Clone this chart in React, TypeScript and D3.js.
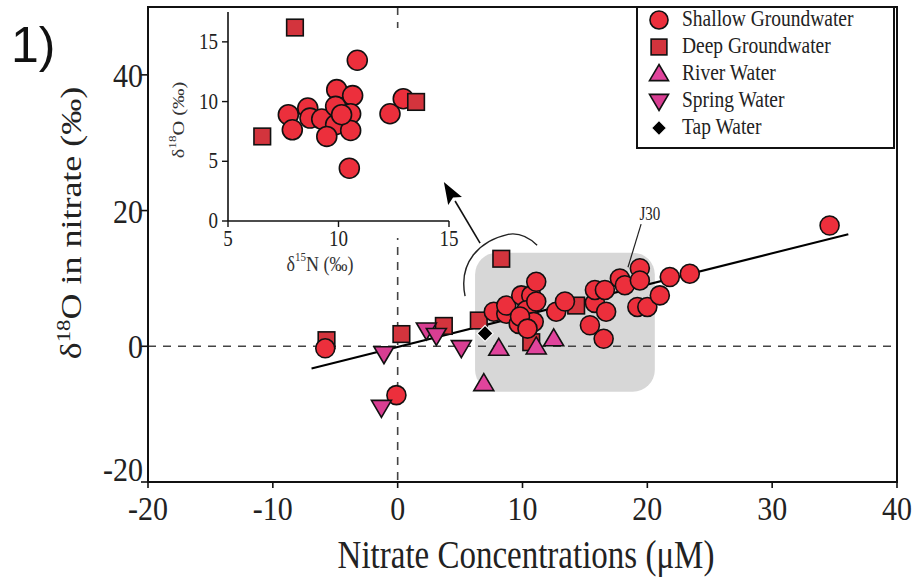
import React from "react";
import * as d3 from "d3";

const xTicks = [-20, -10, 0, 10, 20, 30, 40];
const yTicks = [-20, 0, 20, 40];
const insetXTicks = [5, 10, 15];
const insetYTicks = [0, 5, 10, 15];

const shallow: [number, number][] = [
  [-5.8, -0.3], [-0.1, -7.2],
  [7.7, 5.1], [8.7, 4.8], [8.7, 6.0], [9.9, 7.5], [10.7, 7.5], [10.3, 5.3],
  [10.9, 3.6], [9.7, 3.3], [9.8, 4.4], [11.1, 9.5], [11.1, 6.6], [10.4, 2.6],
  [12.7, 5.1], [13.4, 6.6], [15.8, 6.4], [15.8, 8.3], [16.6, 8.3], [16.7, 5.1],
  [15.4, 3.1], [16.5, 1.1], [17.8, 10.0], [18.2, 9.0], [19.4, 11.5], [19.4, 9.7],
  [19.2, 5.8], [20.0, 5.8], [21.0, 7.5], [21.8, 10.2], [23.4, 10.7], [34.6, 17.8],
];
const deep: [number, number][] = [
  [-5.7, 0.9], [0.3, 1.8], [3.7, 3.0], [6.5, 3.8], [8.3, 12.9], [14.3, 6.0], [10.7, 0.6],
];
const river: [number, number][] = [
  [6.9, -5.5], [8.1, -0.3], [11.1, -0.1], [12.5, 1.1],
];
const spring: [number, number][] = [
  [-1.1, -1.1], [-1.3, -9.0], [2.3, 2.4], [3.1, 1.6], [5.1, -0.2],
];
const tap: [number, number][] = [[7.0, 1.9]];

const insetShallow: [number, number][] = [
  [10.85, 13.46], [9.92, 11.0], [10.64, 10.5], [8.61, 9.46], [7.73, 8.9],
  [7.91, 7.64], [8.71, 8.62], [9.24, 8.54], [9.87, 9.6], [9.87, 8.06],
  [9.47, 7.08], [10.55, 8.98], [10.55, 7.58], [10.49, 4.42], [12.33, 8.98],
  [12.93, 10.24], [10.14, 8.9],
];
const insetDeep: [number, number][] = [[8.03, 16.2], [6.55, 7.08], [13.51, 9.97]];

const regression = { slope: 0.46, intercept: -0.1, x0: -6.9, x1: 36.1 };
const shadedBox = { x0: 6.2, x1: 20.6, y0: -6.7, y1: 13.8 };

const legendItems = [
  { label: "Shallow Groundwater", kind: "circle" },
  { label: "Deep Groundwater", kind: "square" },
  { label: "River Water", kind: "up" },
  { label: "Spring Water", kind: "down" },
  { label: "Tap Water", kind: "diamond" },
];

const COLORS: Record<string, string> = {
  circle: "#ec2f3c",
  square: "#d3343d",
  up: "#e0449c",
  down: "#d83e92",
  diamond: "#000000",
};

const serif = "'Liberation Serif', 'Times New Roman', serif";
const SY = 1.2;

function T({ x, y, size, anchor = "start", rotate = 0, children, fill = "#222", sy = SY }: any) {
  return (
    <g transform={`translate(${x},${y}) scale(1,${sy})${rotate ? ` rotate(${rotate})` : ""}`}>
      <text x={0} y={0} fontSize={size} textAnchor={anchor} fill={fill}>{children}</text>
    </g>
  );
}

function Marker({ kind, x, y, s = 1 }: { kind: string; x: number; y: number; s?: number }) {
  const fill = COLORS[kind];
  const common = { fill, stroke: "#111", strokeWidth: 1.6 };
  if (kind === "circle") return <circle cx={x} cy={y} r={9.5 * s} {...common} />;
  if (kind === "square") {
    const h = 8.3 * s;
    return <rect x={x - h} y={y - h} width={2 * h} height={2 * h} {...common} />;
  }
  if (kind === "up") {
    const w = 10 * s;
    return <path d={`M${x},${y - 10 * s}L${x + w},${y + 7 * s}L${x - w},${y + 7 * s}Z`} {...common} />;
  }
  if (kind === "down") {
    const w = 10 * s;
    return <path d={`M${x},${y + 10 * s}L${x + w},${y - 7 * s}L${x - w},${y - 7 * s}Z`} {...common} />;
  }
  const d = 8 * s;
  return <path d={`M${x},${y - d}L${x + d},${y}L${x},${y + d}L${x - d},${y}Z`} fill="#000" stroke="#fff" strokeWidth={1.2} />;
}

export default function App() {
  const L = 148, R = 897, TOP = 7, B = 482;
  const x = d3.scaleLinear().domain([-20, 40]).range([L, R]);
  const y = d3.scaleLinear().domain([-20, 50]).range([B, TOP]);

  const ix = d3.scaleLinear().domain([5, 15]).range([228, 449]);
  const iy = d3.scaleLinear().domain([0, 17.5]).range([221, 12]);

  const arc = d3.path();
  arc.moveTo(x(5.4), y(7.4));
  arc.bezierCurveTo(x(4.84), y(12.4), x(6.6), y(15.6), x(8.85), y(16.5));
  arc.bezierCurveTo(x(9.8), y(16.8), x(10.6), y(15.9), x(11.17), y(14.9));

  const ax0 = x(6.6), ay0 = y(15.2), ax1 = x(3.7), ay1 = y(24.2);
  const ang = Math.atan2(ay1 - ay0, ax1 - ax0);
  const hl = 22, hw = 8;
  const bx = ax1 - hl * Math.cos(ang), by = ay1 - hl * Math.sin(ang);
  const head = `M${ax1},${ay1}L${bx + hw * Math.sin(ang)},${by - hw * Math.cos(ang)}L${bx + 4 * Math.cos(ang)},${by + 4 * Math.sin(ang)}L${bx - hw * Math.sin(ang)},${by + hw * Math.cos(ang)}Z`;

  const line = d3.line<number>().x((v) => x(v)).y((v) => y(regression.slope * v + regression.intercept));

  const legX = 637, legY = 7, legW = 257, legH = 141;
  const tickSY = 1.15;

  return (
    <svg width={914} height={579} style={{ position: "absolute", left: 0, top: 0, background: "#fff" }} fontFamily={serif}>
      <rect x={0} y={0} width={914} height={579} fill="#fff" />
      <text x={11} y={62} fontFamily="'Liberation Sans', Arial, sans-serif" fontSize={50} fill="#111">1)</text>

      {/* shaded region */}
      <rect x={x(shadedBox.x0)} y={y(shadedBox.y1)} width={x(shadedBox.x1) - x(shadedBox.x0)}
        height={y(shadedBox.y0) - y(shadedBox.y1)} rx={22} fill="#d7d7d7" />

      {/* dashed zero lines */}
      <line x1={L} x2={R} y1={y(0)} y2={y(0)} stroke="#444" strokeWidth={1.6} strokeDasharray="8,7" />
      <line x1={x(0)} x2={x(0)} y1={TOP} y2={B} stroke="#444" strokeWidth={1.6} strokeDasharray="8,7" />

      {/* regression line */}
      <path d={line([regression.x0, regression.x1]) || ""} stroke="#000" strokeWidth={2} fill="none" />

      {/* markers */}
      {deep.map((d, i) => <Marker key={"d" + i} kind="square" x={x(d[0])} y={y(d[1])} />)}
      {shallow.map((d, i) => <Marker key={"s" + i} kind="circle" x={x(d[0])} y={y(d[1])} />)}
      {spring.map((d, i) => <Marker key={"p" + i} kind="down" x={x(d[0])} y={y(d[1])} />)}
      {river.map((d, i) => <Marker key={"r" + i} kind="up" x={x(d[0])} y={y(d[1])} />)}
      {tap.map((d, i) => <Marker key={"t" + i} kind="diamond" x={x(d[0])} y={y(d[1])} />)}

      {/* inset */}
      <rect x={186} y={28} width={270} height={210} fill="#fff" />
      <line x1={ix(5)} x2={ix(5)} y1={iy(0)} y2={iy(17.5)} stroke="#111" strokeWidth={1.6} />
      <line x1={ix(5)} x2={ix(15)} y1={iy(0)} y2={iy(0)} stroke="#111" strokeWidth={1.6} />
      {insetYTicks.map((t) => (
        <g key={"iy" + t}>
          <line x1={ix(5) - 6} x2={ix(5)} y1={iy(t)} y2={iy(t)} stroke="#111" strokeWidth={1.4} />
          <T x={ix(5) - 10} y={iy(t) + 7} size={19} anchor="end">{t}</T>
        </g>
      ))}
      {insetXTicks.map((t) => (
        <g key={"ix" + t}>
          <line x1={ix(t)} x2={ix(t)} y1={iy(0)} y2={iy(0) + 6} stroke="#111" strokeWidth={1.4} />
          <T x={ix(t)} y={iy(0) + 25} size={19} anchor="middle">{t}</T>
        </g>
      ))}
      <T x={320} y={271} size={18} anchor="middle" fill="#333">
        δ<tspan dy={-8} fontSize={11}>15</tspan><tspan dy={8}>N (‰)</tspan>
      </T>
      <T x={184} y={120} size={17} anchor="middle" rotate={-90} fill="#333">
        δ<tspan dy={-8} fontSize={11}>18</tspan><tspan dy={8}>O (‰)</tspan>
      </T>
      {insetShallow.map((d, i) => <Marker key={"is" + i} kind="circle" x={ix(d[0])} y={iy(d[1])} s={1.05} />)}
      {insetDeep.map((d, i) => <Marker key={"id" + i} kind="square" x={ix(d[0])} y={iy(d[1])} />)}

      {/* annotations */}
      <path d={arc.toString()} fill="none" stroke="#222" strokeWidth={1.4} />
      <line x1={ax0} y1={ay0} x2={bx} y2={by} stroke="#111" strokeWidth={1.6} />
      <path d={head} fill="#000" />
      <line x1={x(19.5)} y1={y(18)} x2={x(18.45)} y2={y(11.65)} stroke="#222" strokeWidth={1.2} />
      <T x={x(20.2)} y={y(18.6)} size={15} anchor="middle">J30</T>

      {/* frame and axes */}
      <rect x={L} y={TOP} width={R - L} height={B - TOP} fill="none" stroke="#111" strokeWidth={2} />
      {xTicks.map((t) => (
        <g key={"x" + t}>
          <line x1={x(t)} x2={x(t)} y1={B} y2={B + 6} stroke="#111" strokeWidth={1.6} />
          <T x={x(t)} y={B + 38} size={30} anchor="middle" sy={tickSY}>{t}</T>
        </g>
      ))}
      {yTicks.map((t) => (
        <g key={"y" + t}>
          <line x1={L - 7} x2={L} y1={y(t)} y2={y(t)} stroke="#111" strokeWidth={1.6} />
          <T x={L - 5} y={t === -20 ? y(t) - 1 : y(t) + 12} size={30} anchor="end" sy={tickSY}>{t}</T>
        </g>
      ))}
      <T x={526} y={568} size={33} anchor="middle">Nitrate Concentrations (μM)</T>
      <T x={81} y={223} size={30} anchor="middle" rotate={-90}>
        δ<tspan dy={-11} fontSize={19}>18</tspan><tspan dy={11}>O in nitrate (‰)</tspan>
      </T>

      {/* legend */}
      <rect x={legX} y={legY} width={legW} height={legH} fill="#fff" stroke="#111" strokeWidth={2} />
      {legendItems.map((it, i) => {
        const cy = legY + 13 + i * 27;
        return (
          <g key={it.label}>
            <Marker kind={it.kind} x={legX + 22} y={cy} s={0.95} />
            <T x={legX + 45} y={cy + 6} size={19.5}>{it.label}</T>
          </g>
        );
      })}
    </svg>
  );
}
